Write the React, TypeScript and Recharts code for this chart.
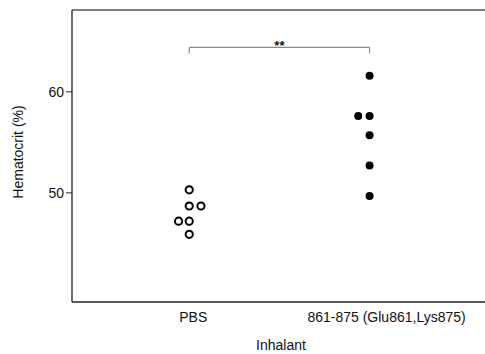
import { Label, ReferenceLine, Scatter, ScatterChart, XAxis, YAxis } from 'recharts';

const categories = ['PBS', '861-875 (Glu861,Lys875)'];
const yTicks = [50, 60];

// PBS group (open circles): category index 1 plus horizontal jitter
const pbsJitter = [0, 0, 0.065, -0.059, 0, 0];
const pbsValues = [50.3, 48.7, 48.7, 47.2, 47.2, 45.9];

// peptide group (filled circles): category index 2
const peptideJitter = [0, -0.063, 0, 0, 0, 0];
const peptideValues = [61.6, 57.6, 57.6, 55.7, 52.7, 49.7];

const significance = '**';
const bracketY = 64.4;
const bracketDrop = 63.8;

const pbsData = pbsValues.map((y, i) => ({ x: 1 + pbsJitter[i], y }));
const peptideData = peptideValues.map((y, i) => ({ x: 2 + peptideJitter[i], y }));

const font = 'Liberation Sans, Arial, sans-serif';
const labelShift = [4, 17];

const CategoryTick = (props: any) => {
  const { x, y, payload, index } = props;
  return (
    <text x={x + (labelShift[index] || 0)} y={y} dy="0.71em" textAnchor="middle" fontSize={14} fontFamily={font} fill="#111">
      {categories[Math.round(payload.value) - 1]}
    </text>
  );
};

export default function App() {
  return (
    <div style={{ position: 'absolute', left: 0, top: 0, background: '#fff' }}>
      <ScatterChart width={485} height={354} margin={{ top: 10, right: 0, bottom: 0, left: 0 }}>
        <XAxis
          type="number"
          dataKey="x"
          domain={[0.35, 2.64]}
          ticks={[1, 2]}
          tick={<CategoryTick />}
          tickLine={false}
          tickSize={0}
          tickMargin={10}
          height={52}
          axisLine={{ stroke: '#222', strokeWidth: 1.3 }}
          allowDataOverflow
        >
          <Label
            content={() => (
              <text x={281} y={350} textAnchor="middle" fontSize={14} fontFamily={font} fill="#111">
                Inhalant
              </text>
            )}
          />
        </XAxis>
        <YAxis
          type="number"
          dataKey="y"
          domain={[39.2, 68.1]}
          ticks={yTicks}
          width={72}
          tickSize={6}
          tickMargin={2}
          tick={{ fontSize: 14, fontFamily: font, fill: '#111' }}
          tickLine={{ stroke: '#222' }}
          axisLine={{ stroke: '#222', strokeWidth: 1.3 }}
          allowDataOverflow
        >
          <Label
            content={() => (
              <text x={23} y={152} transform="rotate(-90 23 152)" textAnchor="middle" fontSize={14} fontFamily={font} fill="#111">
                Hematocrit (%)
              </text>
            )}
          />
        </YAxis>
        <ReferenceLine y={68.1} stroke="#555" strokeWidth={1.3} ifOverflow="visible" />
        <ReferenceLine
          segment={[{ x: 1, y: bracketY }, { x: 2, y: bracketY }]}
          stroke="#888"
          strokeWidth={1.2}
        >
          <Label
            content={(p: any) => (
              <text x={p.viewBox.x + p.viewBox.width / 2} y={p.viewBox.y + 3} textAnchor="middle" fontSize={13} fontWeight="bold" fontFamily={font} fill="#111">
                {significance}
              </text>
            )}
          />
        </ReferenceLine>
        <ReferenceLine segment={[{ x: 1, y: bracketY }, { x: 1, y: bracketDrop }]} stroke="#888" strokeWidth={1.2} />
        <ReferenceLine segment={[{ x: 2, y: bracketY }, { x: 2, y: bracketDrop }]} stroke="#888" strokeWidth={1.2} />
        <Scatter
          data={pbsData}
          isAnimationActive={false}
          shape={(p: any) => <circle cx={p.cx} cy={p.cy} r={3.6} fill="#fff" stroke="#000" strokeWidth={2} />}
        />
        <Scatter
          data={peptideData}
          isAnimationActive={false}
          shape={(p: any) => <circle cx={p.cx} cy={p.cy} r={4} fill="#000" />}
        />
      </ScatterChart>
    </div>
  );
}
